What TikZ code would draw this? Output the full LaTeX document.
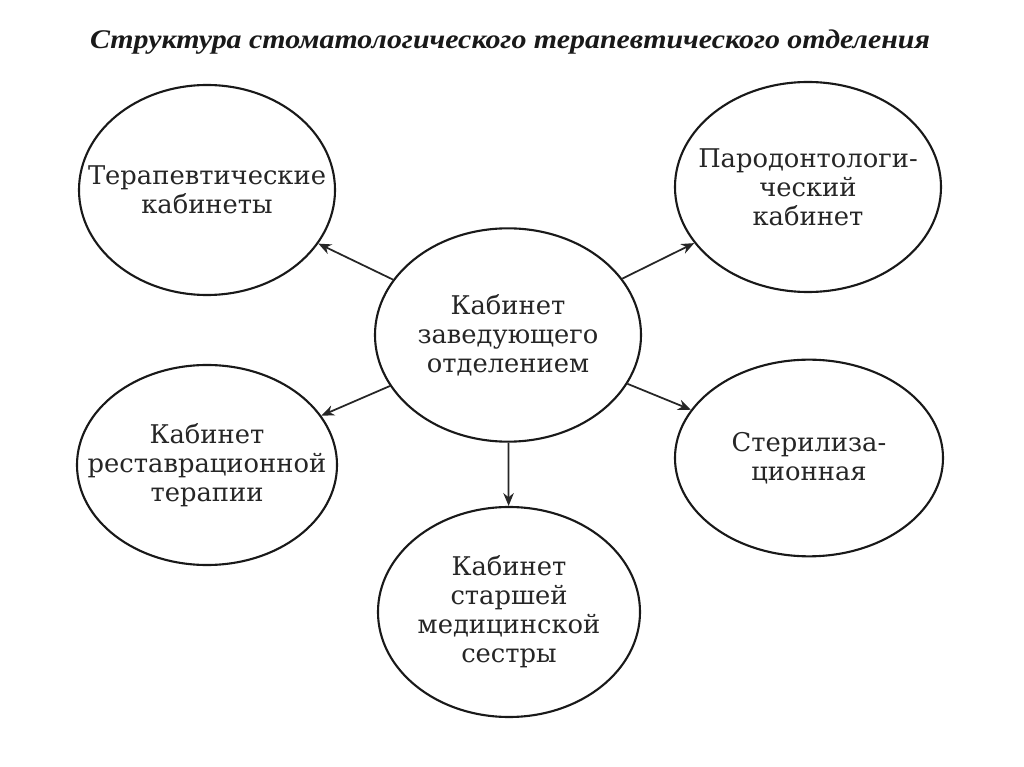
\documentclass[tikz,border=0pt]{standalone}
\usepackage{fontspec}
\setmainfont{DejaVu Serif}
\newfontfamily\titlefont{Liberation Serif}
\usetikzlibrary{shapes.geometric,arrows.meta}
\begin{document}
\begin{tikzpicture}[x=0.03cm,y=-0.03cm,
  circ/.style={ellipse,draw=black!90,line width=1.8pt,inner xsep=-60pt,inner ysep=-40pt,
    font=\fontsize{22}{24.7}\selectfont,align=center,text=black!85},
  arr/.style={line width=1.5pt,draw=black!85,-{Stealth[length=11pt,width=9pt]}}]
\useasboundingbox (0,0) rectangle (1024,767);
\node[font=\titlefont\bfseries\itshape\fontsize{23}{26}\selectfont,xscale=1.11,transform shape,text=black!90] (title) at (510,42) {Структура стоматологического терапевтического отделения};
\node[circ,minimum width=7.68cm,minimum height=6.3cm] (tl) at (207,190) {Терапевтические\\кабинеты};
\node[circ,minimum width=7.98cm,minimum height=6.3cm] (tr) at (808,187) {Пародонтологи-\\ческий\\кабинет};
\node[circ,minimum width=7.98cm,minimum height=6.4cm] (c) at (508,335) {Кабинет\\заведующего\\отделением};
\node[circ,minimum width=7.8cm,minimum height=6.0cm] (ml) at (207,465) {Кабинет\\реставрационной\\терапии};
\node[circ,minimum width=8.04cm,minimum height=5.9cm] (mr) at (809,458) {Стерилиза-\\ционная};
\node[circ,minimum width=7.86cm,minimum height=6.3cm] (b) at (509,612) {Кабинет\\старшей\\медицинской\\сестры};
\draw[arr] (c) -- (tl);
\draw[arr] (c) -- (tr);
\draw[arr] (c) -- (ml);
\draw[arr] (c) -- (mr);
\draw[arr] (c) -- (b);
\end{tikzpicture}
\end{document}
